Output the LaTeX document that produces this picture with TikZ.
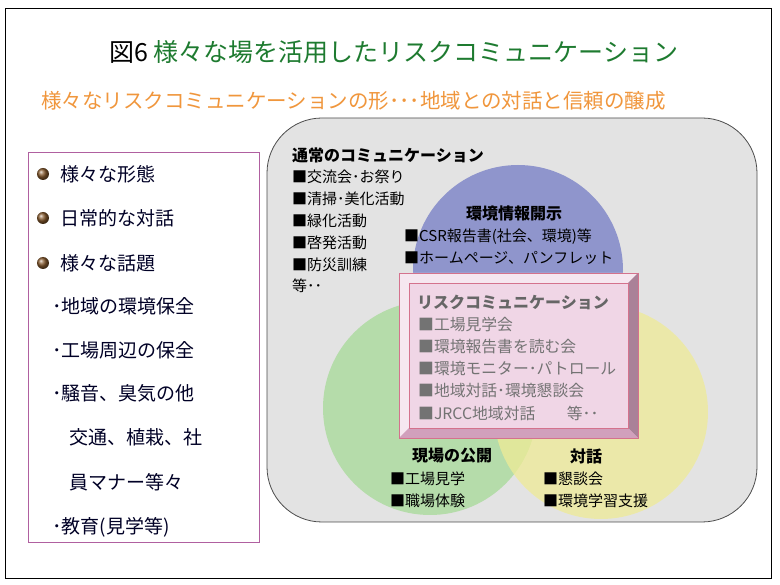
\documentclass[tikz,border=0pt]{standalone}
\usepackage{fontspec}
\setmainfont{Noto Sans CJK JP}
\begin{document}
\begin{tikzpicture}[x=1pt,y=-1pt,
  tx/.style={anchor=west,inner sep=0pt,font=\fontsize{15}{15}\selectfont},
  hd/.style={inner sep=0pt,font=\fontsize{16}{16}\selectfont\bfseries},
  lt/.style={anchor=west,inner sep=0pt,font=\fontsize{19}{19}\selectfont,text=black!85!blue},
  rk/.style={anchor=west,inner sep=0pt,font=\fontsize{15.8}{15.8}\selectfont,text=black!55}]
\definecolor{tgreen}{HTML}{1E7B30}
\definecolor{torange}{HTML}{F0963C}
\definecolor{cblue}{HTML}{8F95CC}
\definecolor{cgreen}{HTML}{B5DCAA}
\definecolor{cyellow}{HTML}{EFEB96}
\definecolor{pinkf}{HTML}{F0D6E6}
\definecolor{pinkd}{HTML}{C98FB0}
\definecolor{bframe}{HTML}{B060A0}
\useasboundingbox (0,0) rectangle (780,585);
\fill[white] (0,0) rectangle (780,585);
\draw[black,line width=0.8pt] (5,8) rectangle (771,578);
\node[inner sep=0pt,font=\fontsize{25}{25}\selectfont] (title) at (394,52) {\textcolor{black}{図6} \textcolor{tgreen}{様々な場を活用したリスクコミュニケーション}};
\node[inner sep=0pt,font=\fontsize{20.5}{20.5}\selectfont,text=torange,anchor=west] (sub) at (41,101) {様々なリスクコミュニケーションの形･･･地域との対話と信頼の醸成};
% left box
\draw[bframe,line width=1pt] (28,153) rectangle (259,542);
\foreach \y/\t [count=\i] in {174/様々な形態,218/日常的な対話,263/様々な話題}{
  \shade[ball color=brown!70!black] (43,\y) circle (6);
  \node[lt] (l\i) at (60,\y) {\t};}
\node[lt] (l4) at (52,306) {･地域の環境保全};
\node[lt] (l5) at (52,350) {･工場周辺の保全};
\node[lt] (l6) at (52,393) {･騒音、臭気の他};
\node[lt] (l7) at (69,437) {交通、植栽、社};
\node[lt] (l8) at (69,482) {員マナー等々};
\node[lt] (l9) at (52,527) {･教育(見学等)};
% grey area
\draw[fill=black!11,draw=black!70,line width=0.8pt,rounded corners=55] (267,118) rectangle (757,522);
\fill[cblue] (518,270) circle (105);
\fill[cgreen] (430,408) circle (107);
\fill[cyellow,opacity=0.75] (601,412) circle (107);
% pink bevel box
\fill[pinkd!70] (399,273) rectangle (638,438);
\fill[pinkf!60!white] (399,273) -- (638,273) -- (628,283) -- (409,283) -- (409,428) -- (399,438) -- cycle;
\fill[pinkd!80!black!90] (638,273) -- (638,438) -- (628,428) -- (628,283) -- cycle;
\fill[pinkd!85] (399,438) -- (638,438) -- (628,428) -- (409,428) -- cycle;
\fill[pinkf] (409,283) rectangle (628,428);
\draw[pinkd!80!red,line width=0.8pt] (399,273) rectangle (638,438);
\draw[pinkd!80!red,line width=0.4pt] (409,283) rectangle (628,428);
% texts
\node[hd,anchor=west] (n0) at (292,155) {通常のコミュニケーション};
\foreach \y/\t [count=\i] in {177/■交流会･お祭り,199/■清掃･美化活動,221/■緑化活動,243/■啓発活動,265/■防災訓練,286/等･･}
  \node[tx] (n\i) at (292,\y) {\t};
\node[hd] (e0) at (514,213) {環境情報開示};
\node[tx] (e1) at (404,237) {■CSR報告書(社会、環境)等};
\node[tx] (e2) at (404,258) {■ホームページ、パンフレット};
\node[hd,anchor=west,text=black!60] (r0) at (417,302) {リスクコミュニケーション};
\foreach \y/\t [count=\i] in {324/■工場見学会,347/■環境報告書を読む会,369/■環境モニター･パトロール,391/■地域対話･環境懇談会,413/■JRCC地域対話\qquad 等･･}
  \node[rk] (r\i) at (418,\y) {\t};
\node[hd] (g0) at (452,456) {現場の公開};
\node[tx] (g1) at (390,479) {■工場見学};
\node[tx] (g2) at (390,501) {■職場体験};
\node[hd] (y0) at (586,456) {対話};
\node[tx] (y1) at (543,479) {■懇談会};
\node[tx] (y2) at (543,501) {■環境学習支援};
\end{tikzpicture}
\end{document}
